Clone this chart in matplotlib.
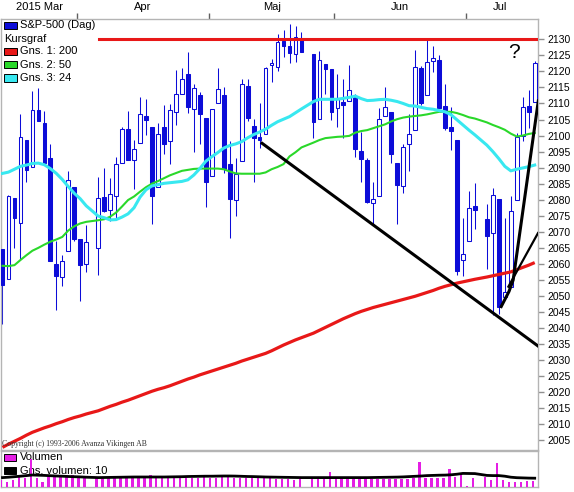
import numpy as np
import pandas as pd
import matplotlib
matplotlib.use("Agg")
import matplotlib.pyplot as plt
from matplotlib.patches import Rectangle

plt.rcParams['font.family'] = ['Liberation Sans', 'DejaVu Sans']

# trading days shown (weekdays, market holidays leave an empty slot)
first_day = '2015-03-13'
last_day = '2015-07-16'
holidays = ['2015-04-03', '2015-05-25', '2015-07-03']

opens = [2064.56, 2055.35, 2080.59, 2072.84, 2098.69, 2090.32, 2107.99, 2103.94, 2093.10, 2059.94, 2055.78, 2064.11, 2084.05,
         2067.63, 2060.03, 2064.87, 2080.79, 2076.94, 2081.29, 2091.51, 2102.03, 2092.28, 2097.82, 2105.96, 2102.58, 2084.11,
         2102.82, 2098.27, 2107.21, 2112.80, 2119.29, 2108.35, 2112.49, 2105.52,
         2087.38, 2110.23, 2112.63, 2091.26, 2079.96, 2092.13, 2115.56, 2102.87, 2099.62, 2100.43, 2122.07, 2121.30, 2129.45,
         2127.79, 2125.55, 2130.36, 2125.34, 2105.13, 2122.27, 2120.66,
         2108.64, 2110.41, 2110.64, 2112.35, 2095.09, 2092.34, 2079.07, 2081.12, 2106.24, 2107.43, 2091.34, 2084.26, 2097.40,
         2101.58, 2121.06, 2112.50, 2123.16, 2123.65, 2109.10, 2102.62, 2098.63, 2061.19,
         2067.00, 2078.03, 2073.95, 2069.52, 2080.21, 2049.73, 2052.74, 2080.03, 2099.72, 2109.22, 2110.55]
highs = [2064.56, 2081.41, 2080.59, 2106.85, 2098.69, 2113.92, 2114.86, 2107.63, 2097.43, 2067.15, 2062.83, 2088.97, 2084.05,
         2067.63, 2072.17, 2086.99, 2089.81, 2086.69, 2093.31, 2102.61, 2107.65, 2098.62, 2111.91, 2111.30, 2102.58, 2103.94,
         2109.64, 2109.98, 2120.49, 2120.92, 2125.92, 2116.04, 2113.65, 2105.52,
         2108.41, 2120.95, 2115.24, 2098.42, 2092.90, 2117.66, 2117.69, 2105.06, 2110.19, 2121.45, 2123.89, 2131.78, 2133.02,
         2134.72, 2134.28, 2132.15, 2125.34, 2126.22, 2122.27, 2120.66,
         2119.15, 2117.59, 2121.92, 2112.89, 2100.99, 2093.01, 2085.62, 2108.50, 2115.02, 2107.43, 2091.34, 2097.40, 2106.79,
         2126.65, 2121.64, 2129.87, 2128.03, 2125.10, 2116.04, 2108.92, 2098.63, 2074.28,
         2082.78, 2085.06, 2078.61, 2083.74, 2080.21, 2074.28, 2081.31, 2100.67, 2111.98, 2114.14, 2123.30]
lows = [2041.17, 2055.35, 2065.08, 2061.23, 2085.56, 2090.32, 2104.42, 2091.50, 2061.05, 2045.50, 2052.96, 2064.11, 2067.04,
        2048.38, 2057.32, 2056.52, 2076.10, 2073.30, 2074.29, 2091.51, 2092.33, 2083.24, 2097.82, 2100.02, 2072.37, 2084.11,
        2094.38, 2091.05, 2103.19, 2112.80, 2107.04, 2094.89, 2097.41, 2077.59,
        2087.38, 2110.23, 2088.46, 2067.93, 2074.99, 2092.13, 2104.58, 2085.57, 2096.04, 2100.43, 2116.81, 2120.01, 2124.50,
        2122.59, 2122.95, 2126.06, 2099.18, 2105.13, 2112.86, 2104.89,
        2102.54, 2099.14, 2110.64, 2093.23, 2085.67, 2079.11, 2072.14, 2081.12, 2106.24, 2091.33, 2072.49, 2082.10, 2088.86,
        2101.58, 2109.45, 2112.50, 2119.89, 2108.58, 2101.78, 2095.38, 2056.64, 2056.32,
        2067.00, 2071.02, 2058.40, 2044.02, 2044.45, 2049.73, 2052.74, 2080.03, 2098.18, 2102.49, 2110.55]
closes = [2053.40, 2081.19, 2074.28, 2099.50, 2089.27, 2108.10, 2104.42, 2091.50, 2061.05, 2056.15, 2061.02, 2086.24, 2067.89,
          2059.69, 2066.96, 2080.62, 2076.33, 2081.90, 2091.18, 2102.06, 2092.43, 2095.84, 2106.63, 2104.99, 2081.18, 2100.40,
          2097.29, 2107.96, 2112.93, 2117.69, 2108.92, 2114.76, 2106.85, 2085.51,
          2108.29, 2114.49, 2089.46, 2080.15, 2088.00, 2116.10, 2105.33, 2099.12, 2098.48, 2121.10, 2122.73, 2129.20, 2127.83,
          2125.85, 2130.82, 2126.06, 2104.20, 2123.48, 2120.79, 2107.39,
          2111.73, 2109.60, 2114.07, 2095.84, 2092.83, 2079.28, 2080.15, 2105.20, 2108.86, 2094.11, 2084.43, 2096.29, 2100.44,
          2121.24, 2109.99, 2122.85, 2124.20, 2108.58, 2102.31, 2101.49, 2057.64, 2063.11,
          2077.42, 2076.78, 2068.76, 2081.34, 2046.68, 2051.31, 2076.62, 2099.60, 2108.95, 2107.40, 2122.70]

# moving averages, one value per trading day
ma200 = [2002.8, 2003.8, 2004.7, 2005.6, 2006.6, 2007.5, 2008.2, 2008.9, 2009.5, 2010.2, 2010.8, 2011.5, 2012.1, 2012.6, 2013.2,
         2014.2, 2014.9, 2015.6, 2016.2, 2016.9, 2017.5, 2018.2, 2018.9, 2019.6, 2020.3, 2020.9, 2021.4, 2022.0, 2022.7, 2023.4,
         2024.1, 2024.7, 2025.4, 2026.0, 2026.6, 2027.2, 2027.8, 2028.4, 2029.0, 2029.7, 2030.3, 2030.9, 2031.5, 2032.1, 2032.9,
         2033.8, 2034.7, 2035.5, 2036.3, 2037.0,
         2038.4, 2039.3, 2040.2, 2041.1, 2042.0, 2042.9, 2043.7, 2044.5, 2045.2, 2045.8, 2046.4, 2046.9, 2047.4, 2047.9, 2048.4,
         2048.9, 2049.4, 2049.9, 2050.5, 2051.1, 2051.7, 2052.4, 2053.0, 2053.5, 2054.0, 2054.4, 2054.8, 2055.2,
         2055.9, 2056.3, 2056.7, 2057.1, 2057.5, 2058.2, 2058.9, 2059.6, 2060.4]
ma50 = [2059.4, 2059.3, 2059.6, 2061.2, 2062.7, 2064.1, 2065.0, 2066.0, 2066.9, 2067.6, 2068.4, 2070.4, 2071.7, 2072.6, 2073.1,
        2073.6, 2073.9, 2074.7, 2076.0, 2077.9, 2079.9, 2081.0, 2082.5, 2083.9, 2085.0, 2085.8, 2086.7, 2087.6, 2088.3, 2089.0,
        2089.3, 2089.6, 2089.7, 2089.7, 2089.7, 2089.7, 2089.5, 2088.8, 2088.2, 2088.1, 2088.1, 2088.1, 2088.1, 2088.5, 2089.5,
        2090.2, 2091.1, 2093.5, 2094.8, 2096.3,
        2097.8, 2098.6, 2099.2, 2099.4, 2099.6, 2099.7, 2099.9, 2100.9, 2101.4, 2101.7, 2102.3, 2102.9, 2103.5, 2104.4, 2105.1,
        2105.6, 2105.9, 2106.1, 2106.3, 2106.6, 2107.0, 2107.4, 2107.4, 2107.4, 2107.0, 2106.4, 2105.7, 2105.3,
        2104.1, 2103.3, 2102.6, 2101.8, 2100.6, 2099.7, 2100.0, 2100.5, 2100.8]
ma24 = [2088.2, 2088.6, 2089.5, 2090.4, 2090.8, 2091.3, 2091.4, 2090.9, 2089.7, 2088.2, 2086.3, 2084.1, 2082.0, 2080.3, 2078.1,
        2074.9, 2074.4, 2073.7, 2073.8, 2074.6, 2075.6, 2077.5, 2080.8, 2083.1, 2084.3, 2084.7, 2085.1, 2085.3, 2085.5, 2085.7,
        2086.2, 2087.7, 2089.7, 2092.0, 2093.4, 2094.7, 2096.1, 2096.9, 2097.4, 2098.1, 2099.3, 2100.3, 2101.1, 2102.0, 2103.2,
        2104.3, 2105.1, 2105.9, 2107.1, 2108.3,
        2110.6, 2111.3, 2111.3, 2111.3, 2111.3, 2111.6, 2111.9, 2112.3, 2111.5, 2110.9, 2111.0, 2111.2, 2111.3, 2111.0, 2110.6,
        2110.0, 2109.3, 2109.2, 2108.8, 2108.4, 2108.2, 2107.8, 2107.4, 2106.5, 2104.9, 2103.3, 2101.7, 2100.2,
        2097.0, 2095.0, 2092.8, 2090.4, 2089.0, 2089.5, 2089.9, 2090.3, 2090.8]

# volume (relative bar heights) and its 10-day average
volume = [7, 5.4, 7, 12, 8.7, 28, 8.7, 5.4, 10.4, 11.4, 11.4, 12, 12, 9.4, 8.7,
          8.7, 8.7, 8.7, 9, 9, 9, 9, 11, 9, 12.5, 9, 9, 9, 9.4, 9, 9, 9, 9, 11.5, 9.4, 9, 10, 10, 9, 9, 9, 9, 9, 9,
          11.4, 8, 8, 8, 7, 8,
          10.4, 8, 8, 14.7, 8, 8.4, 8.4, 8.4, 8.4, 8, 8, 8.4, 8, 8, 8.4, 8.4, 8.4, 9, 24.7, 8.7, 8.7, 8.7, 8.7, 18,
          10.4, 13.7, 0.6, 8.7,
          10.4, 7, 23.7, 7, 5.4, 5.4, 5.4, 6, 6]
vol_ma = [9.4, 9.8, 10.3, 10.8, 11.4, 12.0, 11.8, 11.6, 11.3, 11.0, 10.8, 10.5, 10.3, 10.1, 9.8,
          9.4, 9.5, 9.6, 9.7, 9.8, 9.9, 10.0, 10.0, 10.0, 10.0, 10.0, 10.0, 10.1, 10.2, 10.3, 10.5, 10.6, 10.7, 10.8, 10.8,
          10.9, 11.0, 11.0, 10.9, 10.7, 10.5, 10.4, 10.2, 10.0, 9.9, 9.8, 9.7, 9.6, 9.5, 9.4,
          9.4, 9.4, 9.4, 9.4, 9.4, 9.4, 9.4, 9.4, 9.4, 9.4, 9.5, 9.6, 9.7, 9.8, 9.9, 10.1, 10.4, 10.7, 11.0, 11.4, 11.6,
          11.8, 11.9, 12.2, 12.8, 13.6, 13.5, 13.4,
          11.6, 11.4, 11.4, 10.8, 9.8, 9.3, 9.1, 8.9, 8.8]

# hand drawn lines (trading-day position, price)
resist_x = [16.2, 89.55]
resist_y = [2130, 2130]
trend1_x = [43.4, 89.55]
trend1_y = [2097.6, 2034.4]
trend2_x = [83.4, 84.7, 85.4, 89.6]
trend2_y = [2046.7, 2051.4, 2055.0, 2110.8]
trend3_x = [84.6, 89.55]
trend3_y = [2052.9, 2069.6]

month_names = ['2015 Mar', 'Apr', 'Maj', 'Jun', 'Jul']

BLUE = '#0c0cd8'
RED = '#e81818'
GREEN = '#2ad82a'
CYAN = '#38e8f0'
MAG = '#e41ee4'
GRAY = '#b4b4b4'

days = pd.bdate_range(first_day, last_day)
days = days[~days.isin(pd.to_datetime(holidays))]
x = np.busday_count(np.datetime64(first_day), days.values.astype('datetime64[D]')).astype(float)

o = np.array(opens)
h = np.array(highs)
l = np.array(lows)
c = np.array(closes)

W, H = 574, 492
fig = plt.figure(figsize=(W / 100, H / 100), dpi=100)
ax = fig.add_axes([1 / W, 1 - 450 / H, 537 / W, 431 / H])
vax = fig.add_axes([1 / W, 1 - 487 / H, 537 / W, 36 / H])

xmin, xmax = -0.25, 89.55
ax.set_xlim(xmin, xmax)
ax.set_ylim(2001.98, 2136.33)

# candles
up = c >= o
ax.vlines(x, l, h, color=BLUE, lw=0.75, zorder=2)
ax.bar(x, np.abs(c - o), bottom=np.minimum(o, c), width=0.62,
       color=np.where(up, 'white', BLUE), edgecolor=BLUE, lw=0.75, zorder=3)

ax.plot(x, ma200, color=RED, lw=2.3, zorder=4, solid_capstyle='butt')
ax.plot(x, ma50, color=GREEN, lw=1.5, zorder=4)
ax.plot(x, ma24, color=CYAN, lw=2.2, zorder=4)

ax.plot(resist_x, resist_y, color=RED, lw=2.2, zorder=5)
ax.plot(trend1_x, trend1_y, color='black', lw=2.2, zorder=5)
ax.plot(trend2_x, trend2_y, color='black', lw=2.2, zorder=5)
ax.plot(trend3_x, trend3_y, color='black', lw=1.6, zorder=5)
ax.text(85.5, 2126, '?', fontsize=15, ha='center', va='center', zorder=6)

# axes look
for a in (ax, vax):
    for s in a.spines.values():
        s.set_color(GRAY)
        s.set_linewidth(1.0)

ax.yaxis.tick_right()
ax.set_yticks(np.arange(2005, 2131, 5))
ax.tick_params(axis='y', direction='out', length=4, width=1, color='#909090',
               pad=2.5, labelsize=7.5)

month_starts = [x[i] for i in range(1, len(x)) if days[i].month != days[i - 1].month]
bounds = [m - 0.5 for m in month_starts]
ax.xaxis.tick_top()
ax.set_xticks(bounds)
ax.set_xticklabels([])
ax.tick_params(axis='x', direction='out', length=4, width=1, color='#606060')
edges = [0] + bounds + [x[-1]]
for i, name in enumerate(month_names):
    xc = (edges[i] + edges[i + 1]) / 2
    ax.text(xc, 1.028, name, transform=ax.get_xaxis_transform(), ha='center',
            va='center', fontsize=8)

# legend, top left
def px(xp, yp):
    return xp / W, 1 - yp / H

leg = [('S&P-500 (Dag)', BLUE, 25.5), ('Kursgraf', None, 38.5), ('Gns. 1: 200', RED, 51.5),
       ('Gns. 2: 50', GREEN, 64.5), ('Gns. 3: 24', CYAN, 78)]
for label, col, yp in leg:
    if col is None:
        fig.text(*px(4, yp), label, fontsize=8, va='center', ha='left')
    else:
        fig.add_artist(Rectangle(px(4, yp + 3.5), 13 / W, 7 / H, transform=fig.transFigure,
                                 facecolor=col, edgecolor='black', lw=0.7))
        fig.text(*px(20, yp), label, fontsize=8, va='center', ha='left')

fig.text(*px(2, 444.5), 'Copyright (c) 1993-2006 Avanza Vikingen AB', fontsize=5.6,
         family='Liberation Serif', color='#303030', va='center', ha='left')

# volume panel
vax.set_xlim(xmin, xmax)
vax.set_ylim(0, 36)
vax.set_xticks([])
vax.set_yticks([])
vax.bar(x - 0.28, volume, width=0.4, color=MAG, zorder=3)
vax.plot(x, vol_ma, color='black', lw=2.0, zorder=4)
vax.add_patch(Rectangle(px(4, 460.5), 12 / W, 6.5 / H, transform=fig.transFigure,
                        facecolor=MAG, edgecolor='black', lw=0.7, zorder=1))
vax.text(*px(20, 457.5), 'Volumen', transform=fig.transFigure, fontsize=8,
         va='center', ha='left', zorder=1)
vax.add_patch(Rectangle(px(4, 473.5), 12 / W, 6.5 / H, transform=fig.transFigure,
                        facecolor='black', edgecolor='black', lw=0.7, zorder=1))
vax.text(*px(20, 470.5), 'Gns. volumen: 10', transform=fig.transFigure, fontsize=8,
         va='center', ha='left', zorder=1)

fig.savefig('out.png', dpi=100)
